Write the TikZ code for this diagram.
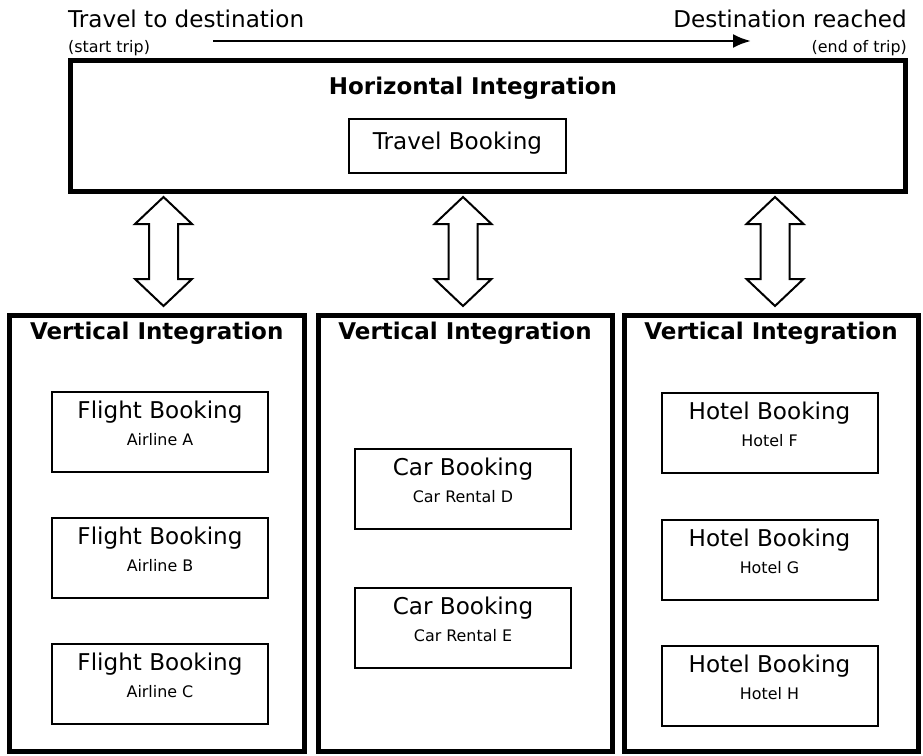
\documentclass[tikz,border=0pt]{standalone}
\usepackage{fontspec}
\setmainfont{DejaVu Sans}
\usetikzlibrary{arrows.meta,calc}
\begin{document}
\begin{tikzpicture}[x=1pt,y=-1pt,
  big/.style={font=\fontsize{23.1}{27}\selectfont,inner sep=0},
  bigbold/.style={font=\fontsize{23}{27}\selectfont\bfseries,inner sep=0},
  small/.style={font=\fontsize{15.9}{19}\selectfont,inner sep=0},
  frame/.style={draw,line width=5pt,inner sep=0,minimum width=#1},
  frame/.default=294,
  itembox/.style={draw,line width=2pt,inner sep=0,minimum width=216,minimum height=80},
  dbl/.pic={\draw[line width=2pt,line join=miter,fill=white]
     (0,-54.5) -- (28.5,-27.5) -- (14.5,-27.5) -- (14.5,27.5) -- (28.5,27.5) -- (0,54.5)
     -- (-28.5,27.5) -- (-14.5,27.5) -- (-14.5,-27.5) -- (-28.5,-27.5) -- cycle;}
]
\useasboundingbox (0,0) rectangle (923,755);

% top labels and trip arrow
\node[big,anchor=base west] (tdest) at (68,27.5) {Travel to destination};
\node[big,anchor=base east] (dreach) at (907,27.5) {Destination reached};
\node[small,anchor=base west] (start) at (68,52) {(start trip)};
\node[small,anchor=base east] (endt) at (907,52) {(end of trip)};
\coordinate (arrS) at (213,41);
\coordinate (arrE) at (751,41);
\draw[line width=2.7pt,-{Latex[length=18pt,width=14pt]}] (arrS) -- (arrE);

% horizontal integration
\node[frame=835,minimum height=130.5] (H) at (487.5,125.75) {};
\node[bigbold,anchor=base] (Ht) at ($(H.north)+(-14.5,36.5)$) {Horizontal Integration};
\node[draw,line width=2pt,inner sep=0,minimum width=217,minimum height=54] (TB) at (457.5,146) {};
\node[big,anchor=base] (TBt) at ($(TB.north)+(0,31)$) {Travel Booking};

% vertical integration frames
\node[frame=294.5,minimum height=436.5] (V1) at (156.75,533.25) {};
\node[frame=294,minimum height=436.5] (V2) at (465,533.25) {};
\node[frame=294,minimum height=436.5] (V3) at (771,533.25) {};
\foreach \v in {V1,V2,V3}{
  \node[bigbold,anchor=base] (\v t) at ($(\v.north)+(0,27)$) {Vertical Integration};
}

% double arrows
\pic at (163.5,251.5) {dbl};
\pic at (463,251.5) {dbl};
\pic at (775,251.5) {dbl};

% item boxes
\foreach \n/\x/\y/\a/\b in {
  F1/160/432/Flight Booking/Airline A,
  F2/160/558/Flight Booking/Airline B,
  F3/160/684/Flight Booking/Airline C,
  C1/463/489/Car Booking/Car Rental D,
  C2/463/628/Car Booking/Car Rental E,
  O1/769.5/433/Hotel Booking/Hotel F,
  O2/769.5/560/Hotel Booking/Hotel G,
  O3/769.5/686/Hotel Booking/Hotel H}{
  \node[itembox] (\n) at (\x,\y) {};
  \node[big,anchor=base] (\n t) at ($(\n.north)+(0,27)$) {\a};
  \node[small,anchor=base] (\n s) at ($(\n.north)+(0,54)$) {\b};
}
\end{tikzpicture}
\end{document}
